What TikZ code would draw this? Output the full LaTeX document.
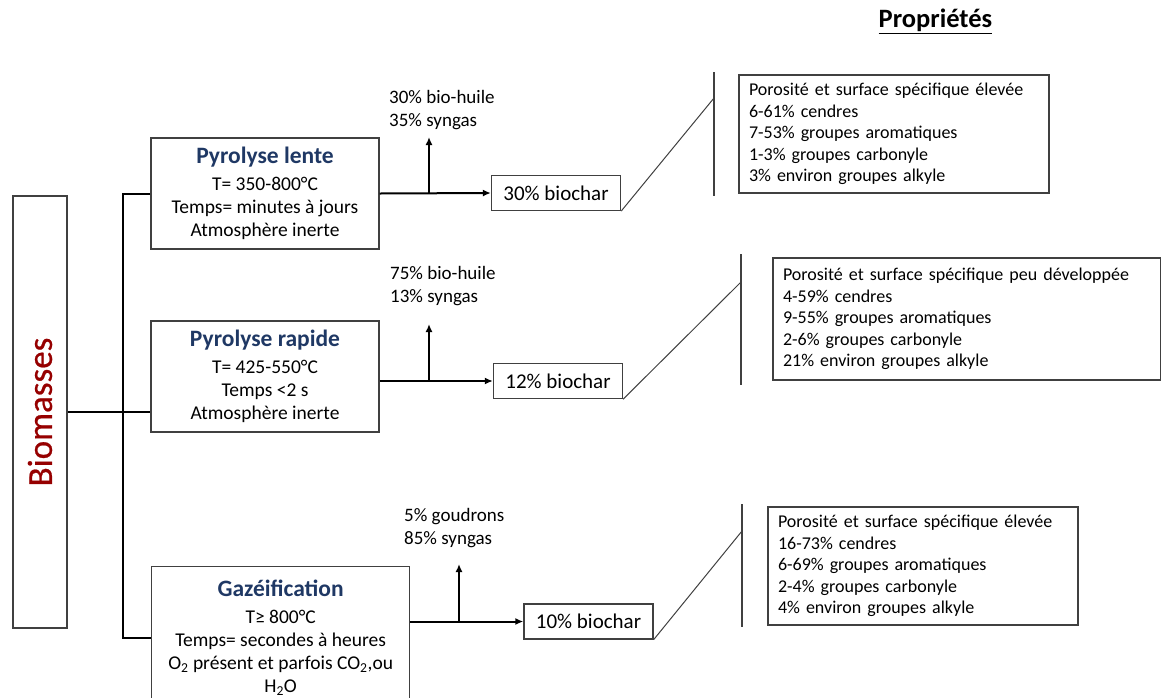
\documentclass[tikz,border=0pt]{standalone}
\usepackage{fontspec}
\setmainfont{Carlito}
\newfontfamily\biofont[FakeBold=0.6]{Carlito}
\usetikzlibrary{arrows.meta}
\definecolor{titleblue}{RGB}{31,56,100}
\definecolor{biored}{RGB}{150,0,0}
\definecolor{boxgray}{RGB}{64,64,64}
\tikzset{
  conn/.style={line width=2pt, black},
  arr/.style={conn, -{Latex[length=8pt,width=7pt]}},
  procbox/.style={draw=boxgray, line width=1.3pt, align=center, inner sep=0pt,
    font=\fontsize{19.5}{23}\selectfont},
  charbox/.style={draw=boxgray, line width=1.3pt, minimum width=129pt, minimum height=35pt,
    inner sep=0pt, font=\fontsize{21}{24}\selectfont},
  propbox/.style={draw=boxgray, line width=1.3pt, align=left, inner xsep=10pt, inner ysep=0pt,
    font=\fontsize{18}{21.4}\selectfont},
  outtext/.style={align=left, inner sep=0pt, anchor=north west, font=\fontsize{19}{23.5}\selectfont},
  diag/.style={line width=1pt, boxgray},
  bar/.style={line width=1.5pt, boxgray}
}
\newcommand{\ptitle}[1]{{\fontsize{23.5}{23}\selectfont\bfseries\color{titleblue}#1}\\[4pt]}
\begin{document}
\begin{tikzpicture}[x=1pt,y=-1pt]
\useasboundingbox (0,0) rectangle (1161,697);
\clip (0,0) rectangle (1161,697);

% title
\node (prop) at (935.5,21) {\fontsize{26.5}{30}\selectfont\bfseries\underline{Propriétés}};

% biomasses
\node[draw=boxgray, line width=1.3pt, minimum width=54pt, minimum height=432pt, inner sep=0pt]
  (bio) at (40,412) {\fontsize{35}{40}\biofont\color{biored}\rotatebox{90}{Biomasses}};

% process boxes
\node[procbox, minimum width=228pt, minimum height=111pt] (lente) at (265,193.5)
  {\ptitle{Pyrolyse lente}T= 350-800°C\\Temps= minutes à jours\\Atmosphère inerte};
\node[procbox, minimum width=228pt, minimum height=111pt] (rapide) at (265,376.5)
  {\ptitle{Pyrolyse rapide}T= 425-550°C\\Temps <2 s\\Atmosphère inerte};
\node[procbox, minimum width=258pt, minimum height=142pt, anchor=north west] (gaz) at (151,566)
  {\ptitle{Gazéification}T≥ 800°C\\Temps= secondes à heures\\O\textsubscript{2} présent et parfois CO\textsubscript{2},ou\\H\textsubscript{2}O};

% trunk connectors
\coordinate (tk) at (123,0);
\draw[conn] (lente.west) -| (tk |- gaz.west) -- (gaz.west);
\draw[conn] (bio.east) -- (bio.east -| rapide.west);

% biochar boxes
\node[charbox] (bc1) at (556,193) {30\% biochar};
\node[charbox] (bc2) at (558,381) {12\% biochar};
\node[charbox] (bc3) at (588.5,621.5) {10\% biochar};

% output texts
\node[outtext] (o1) at (389,90) {30\% bio-huile\\35\% syngas};
\node[outtext] (o2) at (390,266) {75\% bio-huile\\13\% syngas};
\node[outtext] (o3) at (404,508) {5\% goudrons\\85\% syngas};

% row 1
\coordinate (j1) at (429,193.5);
\draw[arr] (lente.east) -- (bc1.west);
\draw[arr] (j1) -- (429,137);
% row 2
\coordinate (j2) at (429,381);
\draw[arr] (rapide.east |- bc2.west) -- (bc2.west);
\draw[arr] (j2) -- (429,324);
% row 3
\coordinate (j3) at (459,621.5);
\draw[arr] (gaz.east |- bc3.west) -- (bc3.west);
\draw[arr] (j3) -- (459,564);

% property boxes
\node[propbox, minimum width=310pt, minimum height=118pt, text width=290pt] (p1) at (894,134)
  {Porosité et surface spécifique élevée\\6-61\% cendres\\7-53\% groupes aromatiques\\1-3\% groupes carbonyle\\3\% environ groupes alkyle};
\node[propbox, minimum width=388pt, minimum height=122pt, text width=368pt] (p2) at (967,319)
  {Porosité et surface spécifique peu développée\\4-59\% cendres\\9-55\% groupes aromatiques\\2-6\% groupes carbonyle\\21\% environ groupes alkyle};
\node[propbox, minimum width=310pt, minimum height=118pt, text width=290pt] (p3) at (923,566)
  {Porosité et surface spécifique élevée\\16-73\% cendres\\6-69\% groupes aromatiques\\2-4\% groupes carbonyle\\4\% environ groupes alkyle};

% brackets
\coordinate (v1a) at (714,72); \coordinate (v1b) at (714,196); \coordinate (v1m) at (714,98);
\coordinate (v2a) at (741,254); \coordinate (v2b) at (741,385); \coordinate (v2m) at (741,282);
\coordinate (v3a) at (742,504); \coordinate (v3b) at (742,627); \coordinate (v3m) at (742,531);
\draw[bar] (v1a) -- (v1b);
\draw[bar] (v2a) -- (v2b);
\draw[bar] (v3a) -- (v3b);
\draw[diag] (bc1.south east) -- (v1m);
\draw[diag] (bc2.south east) -- (v2m);
\draw[diag] (bc3.south east) -- (v3m);
\end{tikzpicture}
\end{document}
